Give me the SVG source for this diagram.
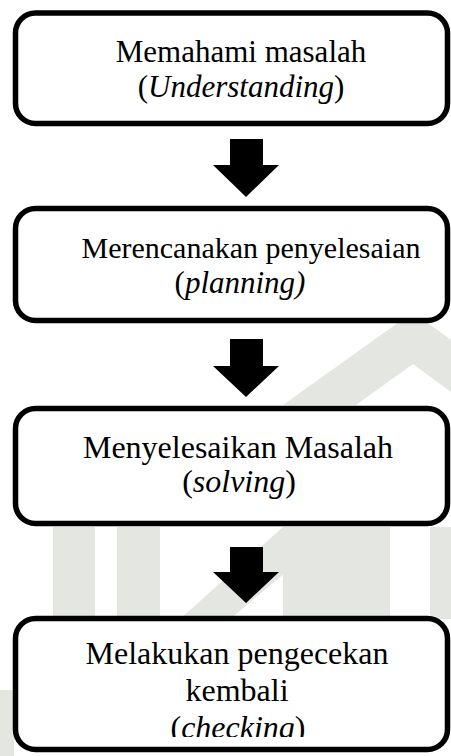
<svg xmlns="http://www.w3.org/2000/svg" width="451" height="756" viewBox="0 0 451 756">
<style>
.box{fill:#fff;stroke:#000;stroke-width:5.5}
text{font-family:'Liberation Serif','Times New Roman',serif;font-size:31px;fill:#000;text-anchor:middle}
.s32{font-size:32px}
.s30{font-size:30px}
.i{font-style:italic}
.arrow{fill:#000}
.wm{fill:#e3e6e1}
</style>
<defs>
<clipPath id="clip4"><rect x="0" y="600" width="451" height="137"/></clipPath>
</defs>
<g id="watermark">
<polygon class="wm" points="283,405 413,312 451,340 451,392 413,364 356,405"/>
<rect class="wm" x="53" y="527" width="42" height="92"/>
<rect class="wm" x="117" y="527" width="43" height="92"/>
<polygon class="wm" points="180,619 283,527 340,527 230,619"/>
<rect class="wm" x="283" y="527" width="107" height="92"/>
<rect class="wm" x="430" y="527" width="21" height="92"/>
<polygon class="wm" points="0,690 14,690 14,756 0,756"/>
</g>
<g id="connectors">
<polygon class="arrow" points="230,139 263,139 263,165 279,165 246,197 213,165 230,165"/>
<polygon class="arrow" points="230,339 263,339 263,366 279,366 246,397 213,366 230,366"/>
<polygon class="arrow" points="230,547 263,547 263,572 279,572 246,603 213,572 230,572"/>
</g>
<g id="node1">
<rect class="box" x="15.5" y="13" width="432" height="110.5" rx="20"/>
<text x="241" y="62">Memahami masalah</text>
<text x="241" y="97">(<tspan class="i">Understanding</tspan>)</text>
</g>
<g id="node2">
<rect class="box" x="15.5" y="208.5" width="432" height="112" rx="20"/>
<text class="s30" x="251" y="258">Merencanakan penyelesaian</text>
<text x="240" y="293">(<tspan class="i">planning)</tspan></text>
</g>
<g id="node3">
<rect class="box" x="15.5" y="408.5" width="432" height="115" rx="20"/>
<text class="s32" x="238" y="458">Menyelesaikan Masalah</text>
<text class="s32" x="239" y="492">(<tspan class="i">solving</tspan>)</text>
</g>
<g id="node4">
<rect class="box" x="15.5" y="618.5" width="432" height="131" rx="20"/>
<text class="s32" x="237" y="664">Melakukan pengecekan</text>
<text class="s32" x="237" y="701">kembali</text>
<text class="s32" x="238" y="738" clip-path="url(#clip4)">(<tspan class="i">checking</tspan>)</text>
</g>
</svg>
